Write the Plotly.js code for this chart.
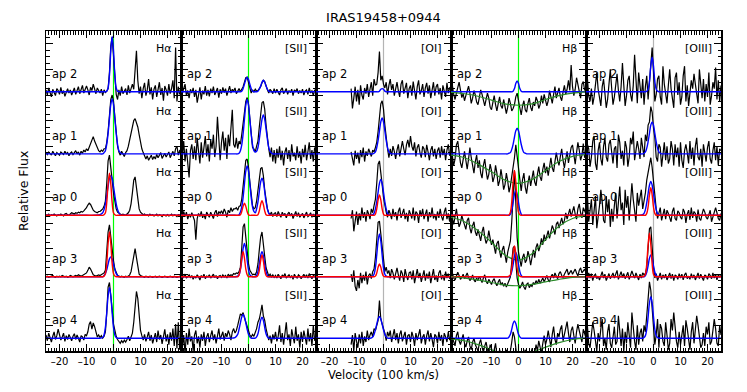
<!DOCTYPE html>
<html>
<head>
<meta charset="utf-8">
<script src="https://cdn.plot.ly/plotly-3.0.1.min.js"></script>
<style>
  html, body { margin: 0; padding: 0; background: #fff; }
  #plot { width: 747px; height: 392px; }
</style>
</head>
<body>
<div id="plot"></div>
<script>
// Velocity grid of the spectra (100 km/s)
const velocity = [
  -25,-24.5,-24,-23.5,-23,-22.5,-22,-21.5,-21,-20.5,
  -20,-19.5,-19,-18.5,-18,-17.5,-17,-16.5,-16,-15.5,
  -15,-14.5,-14,-13.5,-13,-12.5,-12,-11.5,-11,-10.5,
  -10,-9.5,-9,-8.5,-8,-7.5,-7,-6.5,-6,-5.5,
  -5,-4.5,-4,-3.5,-3,-2.5,-2,-1.5,-1,-0.5,
  0,0.5,1,1.5,2,2.5,3,3.5,4,4.5,
  5,5.5,6,6.5,7,7.5,8,8.5,9,9.5,
  10,10.5,11,11.5,12,12.5,13,13.5,14,14.5,
  15,15.5,16,16.5,17,17.5,18,18.5,19,19.5,
  20,20.5,21,21.5,22,22.5,23,23.5,24,24.5,
  25
];
// Velocity grid of the gaussian fits, and of the Hbeta absorption fits
const fitVelocity = [-25,-20,-15,-10,-7,-5,
  -4,-3.5,-3,-2.5,-2,-1.5,-1,-0.5,0,0.5,1,1.5,2,2.5,3,3.5,4,4.5,5,5.5,6,6.5,7,7.5,8,
  9,10,12,15,20,25];
const absVelocity = [-25,-20,-15,-10,-5,0,5,10,15,20,25];

const tickVals = [-20, -10, 0, 10, 20];
const tickText = ['\u201320', '\u201310', '0', '10', '20'];
const apLabels = ['ap 2', 'ap 1', 'ap 0', 'ap 3', 'ap 4'];
const lineLabels = ['H\u03b1', '[SII]', '[OI]', 'H\u03b2', '[OIII]'];

// ---- observed spectra (flux in 1/100 of a panel height, baseline = 0) ----
// H alpha
const haAp2 = [3,-5,6,-2,-8,4,0,-6,5,2, -4,7,-3,2,-7,1,5,-2,3,-5, 0,6,-4,2,8,-3,5,10,-2,4,
  9,3,-5,7,2,12,4,-3,6,1, -2,4,-6,3,-1,1,5,30,72,86, 55,15,-4,-12,3,-6,8,-3,2,5,
  -5,10,-2,6,12,4,30,64,18,-3, 8,-10,5,14,-6,3,20,-4,7,-12, 4,10,-8,2,15,-5,6,-14,9,3,
  -6,12,-3,5,18,-10,69,-15,8,-4, 6];
const haAp1 = [2,-1,3,0,-2,4,1,-3,2,0, -2,3,1,-1,4,0,2,-3,1,3, -1,2,5,0,3,-2,4,1,6,3,
  8,5,10,16,22,27,20,14,8,5, 3,6,4,8,8,18,35,60,85,92, 82,58,32,12,3,-2,4,0,-4,2,
  5,12,22,35,45,52,55,50,42,30, 18,8,2,-5,-8,-3,-10,-6,-2,-9, -4,-8,-1,-6,-3,2,-7,-4,1,-5,
  -2,3,-6,0,4,-3,8,12,-2,5, 3];
const haAp0 = [1,0,2,-1,1,0,2,1,-1,1, 0,2,1,-1,2,3,1,0,2,4, 3,2,4,3,5,4,6,5,7,9,
  12,16,19,17,12,8,6,5,4,6, 6,8,10,14,22,50,85,94,78,55, 35,20,10,5,3,2,1,2,1,0,
  2,4,8,18,35,55,60,45,25,10, 5,3,1,2,0,1,-1,2,0,1, -1,0,2,-1,1,0,-2,1,0,-1,
  1,-1,0,2,-1,1,0,-2,1,0, 0];
const haAp3 = [0,1,-1,0,1,2,0,-1,1,0, 1,0,2,1,0,1,-1,0,2,1, 0,1,2,1,3,2,1,2,3,4,
  6,10,15,12,6,3,2,1,2,3, 2,3,4,6,10,35,70,81,60,40, 25,12,5,2,1,0,1,0,-1,1,
  0,1,3,8,20,38,44,30,12,4, 2,1,0,-1,1,0,-1,1,0,-1, 0,1,-1,0,1,0,-1,0,1,0,
  -1,0,1,0,-1,1,0,-1,0,1, 0];
const haAp4 = [5,-4,8,2,-6,3,10,-2,4,14, 6,-3,2,8,-5,4,-2,6,1,-4, 3,7,-2,5,0,-6,4,2,-3,6,
  4,10,22,26,14,24,18,8,2,5, 1,4,0,3,10,40,80,87,70,45, 22,10,3,-2,-5,-8,-4,-7,-3,-6,
  -2,3,-4,2,8,25,55,73,62,35, 12,4,-3,6,-5,2,10,-4,5,-8, 3,8,-6,12,-2,5,-9,4,14,-5,
  6,-10,9,-4,15,-12,22,-16,25,-18, 10];
// [SII]
const siiAp2 = [8,-3,5,12,-6,2,-10,4,-2,6, -8,3,-17,-5,7,-12,2,-4,9,-6, 3,-7,5,-2,8,-5,1,6,-9,4,
  -3,7,-1,5,-6,3,9,-2,4,1, 6,-3,2,5,0,3,8,15,22,23, 14,4,-2,3,0,4,1,2,5,8,
  14,18,16,8,3,-2,4,1,-3,5, -2,4,0,-5,3,6,-3,1,5,-4, 2,-1,4,-6,3,0,5,-3,2,-2,
  4,-5,1,3,-4,6,-2,2,-6,3, 0];
const siiAp1 = [10,-5,20,-12,8,-20,-37,5,15,-8, 12,-10,25,4,-15,18,-6,10,28,-4, 15,-12,22,8,30,-5,12,58,20,-10,
  18,35,5,25,-8,30,12,40,69,15, 10,25,8,20,15,30,45,65,82,88, 78,55,30,10,8,3,12,20,42,66,
  80,82,70,45,20,8,-5,10,-12,6, -15,8,-6,12,-10,5,-18,3,10,-8, 6,-12,15,-4,2,-10,12,-6,4,-15,
  8,-5,14,-10,3,18,-8,6,-12,10, 4];
const siiAp0 = [3,-4,6,-2,5,-6,2,-3,4,-1, -8,-38,-5,3,-2,6,-4,2,-6,5, 2,-3,5,1,-5,4,8,-2,6,3,
  7,2,10,5,-3,8,4,12,6,10, 10,12,8,14,15,25,45,70,86,88, 75,52,30,15,10,12,22,40,60,73,
  75,62,40,22,10,4,1,5,-2,3, 4,-2,6,1,-3,5,0,3,-4,2, 5,-1,3,-5,2,6,-2,4,-3,1,
  3,-4,2,5,-2,0,4,-3,2,-1, 2];
const siiAp3 = [2,-3,1,4,-2,0,3,-1,2,-4, 1,-2,3,0,-5,2,-1,4,-3,1, 0,3,-2,1,4,-1,2,-3,1,2,
  -1,3,0,2,-2,4,1,3,2,5, 4,6,5,8,15,45,78,83,60,35, 20,10,5,3,4,3,8,20,42,62,
  70,55,32,14,5,1,4,0,3,-1, 2,-2,4,1,-3,3,0,5,-2,1, 3,-1,2,-4,4,0,-2,3,1,-3,
  2,4,-1,3,-2,5,0,-3,2,1, 0];
const siiAp4 = [10,-15,5,-25,8,-10,15,-5,3,-20, 5,12,-8,3,-15,6,-4,10,-12,2, 8,-6,4,12,-3,6,-8,3,15,-2,
  5,10,-4,8,2,12,6,-3,10,15, 8,12,20,30,38,36,40,32,25,18, 10,5,2,6,3,8,15,25,30,40,
  52,35,28,15,5,-3,4,-8,6,-2, 10,-5,3,20,-6,8,-10,5,25,-3, 6,-12,14,2,-8,18,-4,6,-15,10,
  -6,12,3,-10,15,-5,8,-12,20,-4, 5];
// [OI] (the spectra begin at -12)
const oiAp2 = [5,-26,-10,8, -15,3,-20,10,-5,-12,6,-3,12,-8, 4,15,-6,20,10,12,30,63,18,25,
  12,6,15,-4,10,20,3,12,-6,8, 15,2,-8,12,18,-3,6,14,-10,5, 10,-6,16,4,-12,8,18,-4,2,12,
  -8,6,14,-3,10,-10,5,15,-6,8, 12,-4,6,-12,10,3,-8,14,-2,6, 4];
const oiAp1 = [3,-10,-18,5, -8,2,-15,6,-5,10,-12,4,-3,8, 2,-4,6,3,10,18,35,60,78,83,
  70,45,22,8,-6,8,-3,12,4,-8, 6,15,-4,10,20,8,-2,14,22,10, 28,12,5,18,-4,10,15,2,-6,12,
  8,-5,14,3,-10,6,12,-4,8,-8, 5,10,-6,12,-2,8,-10,6,15,-3, 5];
const oiAp0 = [-5,8,-25,-12, 6,-15,3,-8,12,-4,5,-10,8,2, -6,10,4,15,25,50,80,85,70,48,
  28,15,5,-3,8,2,-6,10,-2,5, -8,6,12,-4,3,10,-6,4,-10,8, 2,-5,12,-8,6,3,-12,8,-2,10,
  -6,4,9,-10,5,-3,12,-5,2,-8, 6,-4,10,-2,-8,5,12,-6,3,-10, 4];
const oiAp3 = [4,-8,10,-15, -22,-5,-18,6,-10,3,-6,8,-12,2, 5,-3,8,12,30,62,85,87,65,40,
  20,8,15,5,10,-2,12,6,-4,8, 14,3,-6,10,5,-8,12,2,-5,6, 8,-4,10,-10,4,12,-2,6,-8,3,
  10,-6,5,-3,8,-10,4,12,-5,2, -8,6,10,-4,3,-6,8,-2,5,-3, 2];
const oiAp4 = [-10,5,-20,8, -5,-15,6,-8,10,-12,3,-6,12,-3, 5,10,2,15,12,20,28,59,30,22,
  15,8,-4,10,3,12,-6,5,14,-3, 8,-8,6,12,-5,3,10,-10,4,6, -6,10,2,-12,8,-3,5,14,-8,2,
  6,-10,4,12,-5,8,-2,-14,6,3, -8,10,-4,5,-12,8,2,-6,10,-3, 4];
// H beta
const hbAp2 = [6,10,-4,-12,-2,8,15,3,-9,-3, -14,-6,4,9,-2,-18,-10,2,-5,-16, -20,-8,3,-4,-15,-22,-12,-2,-10,-24,
  -28,-14,-6,-20,-30,-18,-8,-22,-26,-12, -22,-34,-24,-10,-18,-30,-26,-20,-8,-2, -14,-26,-36,-22,-14,-28,-32,-18,-10,-24,
  -30,-16,-22,-8,-14,-26,-20,-6,-18,-4, -12,-22,-14,2,-8,-18,-4,8,-10,-2, 6,-8,-14,0,10,-4,4,18,2,42,
  8,-6,4,22,10,-4,-10,12,16,2, 5];
const hbAp1 = [12,-4,-18,-8,14,20,2,-14,-22,-6, 4,-10,-24,-8,10,-6,-20,-30,-12,-2, -22,-10,-30,-38,-18,-8,-26,-40,-32,-16,
  -26,-44,-36,-18,-30,-50,-42,-24,-38,-56, -48,-30,-42,-60,-50,-36,-26,-6,14,-4, -24,-44,-58,-40,-30,-52,-62,-46,-34,-50,
  -38,-26,-44,-50,-32,-20,-36,-42,-24,-14, -30,-20,-34,-16,-6,-22,-28,-12,2,-10, -18,-4,8,-10,-22,-8,4,-14,-2,10,
  14,-4,-16,2,18,6,-10,-2,16,-6, 0];
const hbAp0 = [6,-4,-14,-2,10,-6,-18,-12,0,-8, -14,-22,-8,-4,-20,-28,-16,-10,-26,-32, -22,-30,-40,-26,-18,-34,-44,-38,-24,-36,
  -46,-38,-52,-60,-44,-40,-56,-66,-54,-48, -62,-74,-58,-48,-40,-10,40,70,20,-35, -58,-72,-80,-66,-60,-74,-70,-56,-64,-78,
  -62,-54,-66,-50,-44,-56,-48,-36,-46,-30, -40,-32,-24,-36,-28,-16,-22,-30,-14,-10, -20,-12,-4,-14,-8,4,-6,2,10,-2,
  6,14,2,-6,10,18,4,-4,12,8, 2];
const hbAp3 = [3,6,-2,-5,1,7,2,-4,-1,4, -3,2,6,-1,-6,-3,3,-5,-8,-2, -6,1,-4,-9,-2,3,-7,-11,-4,-8,
  -12,-6,-3,-10,-14,-8,-4,-13,-9,-15, -10,-16,-12,-6,0,20,45,48,25,-2, -12,-18,-14,-8,-16,-20,-12,-10,-17,-13,
  -15,-9,-12,-6,-11,-4,-10,-7,-2,-8, -3,2,-5,-8,0,4,-2,6,1,-3, 5,8,2,-1,4,9,12,3,6,10,
  4,8,12,6,1,10,14,6,9,12, 6];
const hbAp4 = [8,2,-6,-12,4,10,-4,-10,-2,6, -8,-14,-4,2,-12,-18,-6,0,-10,-16, -20,-8,-2,-14,-22,-12,-6,-18,-24,-10,
  -16,-28,-20,-8,-26,-32,-18,-24,-34,-22, -28,-18,-34,-24,-20,-6,10,2,-20,-32, -36,-24,-30,-40,-26,-18,-32,-38,-22,-28,
  -16,-30,-24,-10,-20,-4,-14,-22,-8,4, -10,-2,12,-6,-14,6,18,-2,-10,8, 2,14,20,-4,6,16,26,8,-6,12,
  18,4,-8,10,22,12,2,-6,14,8, 0];
// [OIII]
const oiiiAp2 = [10,22,-6,-15,5,-20,-8,12,30,4, -10,-22,8,20,-2,-25,-12,12,35,6, -20,-8,15,28,2,-15,8,45,10,-22,
  -6,18,25,-4,-15,10,58,12,-18,30, 6,-10,20,-20,8,25,-12,15,45,69, 30,-15,-4,20,25,-8,-20,40,12,-6,
  -18,10,35,5,-10,-25,22,30,-5,15, -20,-8,25,40,-15,10,-22,-4,18,5, 28,12,-5,-18,35,8,-10,20,-15,12,
  -8,30,-20,-6,15,5,38,-12,18,-15, 10];
const oiiiAp1 = [-10,15,8,-20,-5,20,28,-15,-25,5, 18,-8,-18,12,25,-5,-12,15,22,-3, -15,8,12,-22,30,18,-8,5,-18,20,
  10,-20,-5,25,15,35,-10,5,20,8, -8,25,10,-5,30,20,45,50,74,65, 40,25,-5,-12,15,10,-20,5,18,-10,
  12,-15,-8,20,8,-18,15,-5,10,-20, 18,-10,-22,5,15,2,-15,20,-8,10, -18,12,25,-5,-10,8,-20,15,-3,-12,
  10,20,-8,-15,5,18,-10,12,-18,8, 5];
const oiiiAp0 = [20,35,-10,5,25,-15,10,30,-20,-5, 15,40,22,-8,-12,30,5,25,-18,10, -10,15,35,-5,28,45,8,20,-15,40,
  12,30,-8,18,50,25,5,-10,35,15, 28,40,10,22,35,55,65,80,90,75, 50,25,10,-5,4,12,-8,2,10,-6,
  8,3,-4,-10,6,12,-5,-8,7,4, -3,-6,10,5,-12,2,8,-7,12,-4, 6,3,-10,9,-5,-8,2,10,5,-3,
  -6,2,8,-10,-3,6,12,4,-5,-8, 3];
const oiiiAp3 = [3,-4,6,-2,5,-6,2,4,-3,1, -5,3,8,-2,4,-6,1,5,-3,2, 6,-2,4,10,-4,3,8,-1,5,-3,
  2,7,-4,4,9,3,-2,6,1,-5, 4,-2,6,3,5,15,45,75,78,45, 15,-2,5,-6,2,6,-4,3,-2,4,
  -5,2,6,-3,4,-6,3,1,-4,5, -2,4,-5,3,6,-3,1,-4,5,-2, 3,-5,2,6,-3,4,-1,-6,3,1,
  -4,5,2,-3,6,-2,4,-5,3,0, 2];
const oiiiAp4 = [10,20,-8,-15,5,25,12,-10,-20,8, -5,15,30,-12,0,-18,10,22,-8,-15, 5,18,-10,-5,35,8,-12,15,-20,10,
  -8,25,5,-15,40,12,-5,-18,20,-10, 8,15,-5,20,10,35,70,88,75,50, 20,-10,5,30,-15,22,15,-5,-12,25,
  5,-18,-8,30,12,40,18,-5,-15,10, -10,5,20,-12,28,15,-5,-18,10,25, -8,12,35,20,5,-15,-10,8,-12,18,
  6,25,-10,-5,12,30,15,-8,-12,20, 5];

// ---- gaussian fits on fitVelocity: total (blue) and narrow component (red) ----
const haFitAp2 = [0,0,0,0,0,0, 0,0,0,1,6,26,64,86,64,26,6,1,0,0,0,0,0,0,0,0,0,0,0,0,0, 0,0,0,0,0,0];
const haFitAp1 = [0,0,0,0,0,0, 0,2,5,15,32,55,77,86,77,55,32,15,5,2,0,0,0,0,0,0,0,0,0,0,0, 0,0,0,0,0,0];
const haFitAp0 = [0,0,0,0,0,1, 4,9,18,31,45,58,62,58,45,31,18,9,4,1,0,0,0,0,0,0,0,0,0,0,0, 0,0,0,0,0,0];
const haRedAp0 = [0,0,0,0,0,0, 0,1,4,20,49,66,49,20,4,1,0,0,0,0,0,0,0,0,0,0,0,0,0,0,0, 0,0,0,0,0,0];
const haFitAp3 = [0,0,0,0,0,0, 0,2,5,11,20,28,31,28,20,11,5,2,0,0,0,0,0,0,0,0,0,0,0,0,0, 0,0,0,0,0,0];
const haRedAp3 = [0,0,0,0,0,0, 0,1,5,21,52,70,52,21,5,1,0,0,0,0,0,0,0,0,0,0,0,0,0,0,0, 0,0,0,0,0,0];
const haFitAp4 = [0,0,0,0,0,0, 1,5,17,40,66,79,66,40,17,5,1,0,0,0,0,0,0,0,0,0,0,0,0,0,0, 0,0,0,0,0,0];

const siiFitAp2 = [0,0,0,0,0,0, 0,0,0,1,5,12,19,23,19,12,5,1,0,0,0,1,4,9,15,18,15,9,4,1,0, 0,0,0,0,0,0];
const siiFitAp1 = [0,0,0,0,0,0, 0,1,5,14,31,54,76,85,76,54,31,14,5,3,4,10,23,39,54,61,54,39,23,10,4, 0,0,0,0,0,0];
const siiFitAp0 = [0,0,0,0,0,0, 0,1,5,13,28,49,69,77,69,49,28,13,6,4,10,21,37,52,58,52,37,21,10,3,1, 0,0,0,0,0,0];
const siiRedAp0 = [0,0,0,0,0,0, 0,0,1,6,14,19,14,6,1,0,0,0,0,0,0,1,7,17,23,17,7,1,0,0,0, 0,0,0,0,0,0];
const siiFitAp3 = [0,0,0,0,0,0, 1,3,11,26,44,52,44,26,11,3,1,0,0,0,2,8,20,33,39,33,20,8,2,0,0, 0,0,0,0,0,0];
const siiRedAp3 = [0,0,0,0,0,0, 0,3,12,29,39,29,12,3,0,0,0,0,0,0,0,2,10,25,34,25,10,2,0,0,0, 0,0,0,0,0,0];
const siiFitAp4 = [0,0,0,0,0,1, 6,14,24,33,37,33,24,14,6,2,0,0,0,0,2,7,17,28,33,28,17,7,2,0,0, 0,0,0,0,0,0];

const oiFitAp2 = [0,0,0,0,0,0, 0,0,0,0,0,1,4,5,4,1,0,0,0,0,0,0,0,0,0,0,0,0,0,0,0, 0,0,0,0,0,0];
const oiFitAp1 = [0,0,0,0,0,0, 0,1,3,10,21,36,50,56,50,36,21,10,3,1,0,0,0,0,0,0,0,0,0,0,0, 0,0,0,0,0,0];
const oiFitAp0 = [0,0,0,0,0,0, 1,3,10,21,36,50,56,50,36,21,10,3,1,0,0,0,0,0,0,0,0,0,0,0,0, 0,0,0,0,0,0];
const oiRedAp0 = [0,0,0,0,0,0, 0,0,2,10,24,32,24,10,2,0,0,0,0,0,0,0,0,0,0,0,0,0,0,0,0, 0,0,0,0,0,0];
const oiFitAp3 = [0,0,0,0,0,0, 1,4,14,34,56,67,56,34,14,4,1,0,0,0,0,0,0,0,0,0,0,0,0,0,0, 0,0,0,0,0,0];
const oiRedAp3 = [0,0,0,0,0,0, 0,0,1,6,15,20,15,6,1,0,0,0,0,0,0,0,0,0,0,0,0,0,0,0,0, 0,0,0,0,0,0];
const oiFitAp4 = [0,0,0,0,0,0, 2,6,13,22,30,34,30,22,13,6,2,0,0,0,0,0,0,0,0,0,0,0,0,0,0, 0,0,0,0,0,0];

const hbFitAp2 = [0,0,0,0,0,0, 0,0,0,0,1,5,13,17,13,5,1,0,0,0,0,0,0,0,0,0,0,0,0,0,0, 0,0,0,0,0,0];
const hbFitAp1 = [0,0,0,0,0,0, 0,1,2,7,15,26,36,40,36,26,15,7,2,1,0,0,0,0,0,0,0,0,0,0,0, 0,0,0,0,0,0];
const hbFitAp0 = [0,0,0,0,0,0, 0,0,2,8,20,33,39,33,20,8,2,0,0,0,0,0,0,0,0,0,0,0,0,0,0, 0,0,0,0,0,0];
const hbRedAp0 = [0,0,0,0,0,0, 0,1,5,21,52,70,52,21,5,1,0,0,0,0,0,0,0,0,0,0,0,0,0,0,0, 0,0,0,0,0,0];
const hbFitAp3 = [0,0,0,0,0,0, 0,0,2,8,19,32,38,32,19,8,2,0,0,0,0,0,0,0,0,0,0,0,0,0,0, 0,0,0,0,0,0];
const hbRedAp3 = [0,0,0,0,0,0, 0,1,3,14,36,48,36,14,3,1,0,0,0,0,0,0,0,0,0,0,0,0,0,0,0, 0,0,0,0,0,0];
const hbFitAp4 = [0,0,0,0,0,0, 0,2,6,14,23,27,23,14,6,2,0,0,0,0,0,0,0,0,0,0,0,0,0,0,0, 0,0,0,0,0,0];

const oiiiFitAp2 = [0,0,0,0,0,0, 0,0,0,1,4,16,40,54,40,16,4,1,0,0,0,0,0,0,0,0,0,0,0,0,0, 0,0,0,0,0,0];
const oiiiFitAp1 = [0,0,0,0,0,0, 0,1,3,9,19,32,45,50,45,32,19,9,3,1,0,0,0,0,0,0,0,0,0,0,0, 0,0,0,0,0,0];
const oiiiFitAp0 = [0,0,0,0,0,0, 1,3,9,20,34,47,53,47,34,20,9,3,1,0,0,0,0,0,0,0,0,0,0,0,0, 0,0,0,0,0,0];
const oiiiRedAp0 = [0,0,0,0,0,0, 0,0,0,3,13,32,43,32,13,3,0,0,0,0,0,0,0,0,0,0,0,0,0,0,0, 0,0,0,0,0,0];
const oiiiFitAp3 = [0,0,0,0,0,0, 0,0,2,7,17,29,34,29,17,7,2,0,0,0,0,0,0,0,0,0,0,0,0,0,0, 0,0,0,0,0,0];
const oiiiRedAp3 = [0,0,0,0,0,0, 0,1,4,20,50,68,50,20,4,1,0,0,0,0,0,0,0,0,0,0,0,0,0,0,0, 0,0,0,0,0,0];
const oiiiFitAp4 = [0,0,0,0,0,0, 0,1,4,14,33,55,65,55,33,14,4,1,0,0,0,0,0,0,0,0,0,0,0,0,0, 0,0,0,0,0,0];

// ---- Hbeta stellar absorption fits (green) on absVelocity ----
const hbAbsAp2 = [-1,-3,-7,-13,-19,-21,-19,-12,-6,-2,0];
const hbAbsAp1 = [-2,-6,-16,-28,-41,-46,-40,-26,-12,-4,-1];
const hbAbsAp0 = [-3,-10,-24,-42,-62,-70,-60,-38,-17,-5,-1];
const hbAbsAp3 = [0,-2,-5,-9,-13,-14,-12,-8,-4,-1,0];
const hbAbsAp4 = [-1,-4,-10,-18,-26,-28,-22,-14,-7,-2,0];

// panels: one column per line, rows are ap2, ap1, ap0, ap3, ap4 from the top
const columns = [
  { spectra: [haAp2, haAp1, haAp0, haAp3, haAp4],
    fits: [haFitAp2, haFitAp1, haFitAp0, haFitAp3, haFitAp4],
    reds: [null, null, haRedAp0, haRedAp3, null], zeroColor: '#00ff00' },
  { spectra: [siiAp2, siiAp1, siiAp0, siiAp3, siiAp4],
    fits: [siiFitAp2, siiFitAp1, siiFitAp0, siiFitAp3, siiFitAp4],
    reds: [null, null, siiRedAp0, siiRedAp3, null], zeroColor: '#00ff00' },
  { spectra: [oiAp2, oiAp1, oiAp0, oiAp3, oiAp4],
    fits: [oiFitAp2, oiFitAp1, oiFitAp0, oiFitAp3, oiFitAp4],
    reds: [null, null, oiRedAp0, oiRedAp3, null], zeroColor: '#b4b4b4' },
  { spectra: [hbAp2, hbAp1, hbAp0, hbAp3, hbAp4],
    fits: [hbFitAp2, hbFitAp1, hbFitAp0, hbFitAp3, hbFitAp4],
    reds: [null, null, hbRedAp0, hbRedAp3, null],
    absorption: [hbAbsAp2, hbAbsAp1, hbAbsAp0, hbAbsAp3, hbAbsAp4], zeroColor: '#00ff00' },
  { spectra: [oiiiAp2, oiiiAp1, oiiiAp0, oiiiAp3, oiiiAp4],
    fits: [oiiiFitAp2, oiiiFitAp1, oiiiFitAp0, oiiiFitAp3, oiiiFitAp4],
    reds: [null, null, oiiiRedAp0, oiiiRedAp3, null], zeroColor: '#b4b4b4' }
];

// baseline of each row on the 0..500 column axis
const rowBase = [405, 308, 212, 116, 20];
const shift = (arr, base) => arr.map(v => v + base);

const traces = [];
const annotations = [];
const shapes = [];
const layout = {
  width: 747,
  height: 392,
  margin: { l: 46, r: 26, t: 31, b: 41 },
  paper_bgcolor: '#fff',
  plot_bgcolor: '#fff',
  showlegend: false,
  font: { family: 'DejaVu Sans, sans-serif', size: 11, color: '#000' },
  title: {
    text: 'IRAS19458+0944',
    x: 0.5, xref: 'paper', xanchor: 'center',
    y: 1 - 17 / 392, yref: 'container', yanchor: 'middle',
    font: { size: 13, color: '#000' }
  }
};

columns.forEach((col, c) => {
  const xa = 'x' + (c + 1);
  const ya = 'y' + (c + 1);

  col.spectra.forEach((spec, r) => {
    const base = rowBase[r];
    // spectra that begin late ([OI]) use the tail of the grid
    const xs = velocity.slice(velocity.length - spec.length);
    traces.push({ x: xs, y: shift(spec, base), xaxis: xa, yaxis: ya, type: 'scatter',
      mode: 'lines', line: { color: '#000', width: 1.2 }, hoverinfo: 'skip' });
    traces.push({ x: fitVelocity, y: shift(col.fits[r], base), xaxis: xa, yaxis: ya,
      type: 'scatter', mode: 'lines', line: { color: '#0000ff', width: 1.4, shape: 'spline' },
      hoverinfo: 'skip' });
    if (col.reds[r]) {
      traces.push({ x: fitVelocity, y: shift(col.reds[r], base), xaxis: xa, yaxis: ya,
        type: 'scatter', mode: 'lines', line: { color: '#ff0000', width: 1.4, shape: 'spline' },
        hoverinfo: 'skip' });
    }
    if (col.absorption) {
      traces.push({ x: absVelocity, y: shift(col.absorption[r], base), xaxis: xa, yaxis: ya,
        type: 'scatter', mode: 'lines', line: { color: '#2a8a2a', width: 1.2, shape: 'spline' },
        hoverinfo: 'skip' });
    }

    annotations.push({ text: apLabels[r], xref: xa + ' domain', yref: ya, x: 0.03, y: base + 28,
      xanchor: 'left', yanchor: 'middle', showarrow: false, font: { size: 11.5 } });
    annotations.push({ text: lineLabels[c], xref: xa + ' domain', yref: ya, x: 0.95, y: base + 67,
      xanchor: 'right', yanchor: 'middle', showarrow: false, font: { size: 11 } });
  });

  // rest velocity marker
  shapes.push({ type: 'line', xref: xa, yref: 'paper', x0: 0, x1: 0, y0: 0, y1: 1,
    layer: 'below', line: { color: col.zeroColor, width: 1.2 } });

  layout['xaxis' + (c + 1)] = {
    domain: [c / 5, (c + 1) / 5], anchor: ya, range: [-25, 25],
    showline: true, linecolor: '#000', linewidth: 1.5, mirror: 'ticks',
    ticks: 'inside', ticklen: 7, tickwidth: 1, tickcolor: '#000',
    tickmode: 'array', tickvals: tickVals, ticktext: tickText,
    tickfont: { size: 10, color: '#000' },
    minor: { tickmode: 'linear', tick0: 0, dtick: 1, ticks: 'inside', ticklen: 3.5, tickcolor: '#000', showgrid: false },
    showgrid: false, zeroline: false, fixedrange: true
  };
  layout['yaxis' + (c + 1)] = {
    domain: [0, 1], anchor: xa, range: [0, 500],
    showline: true, linecolor: '#000', linewidth: 1.5, mirror: 'ticks',
    ticks: 'inside', ticklen: 7, tickwidth: 1, tickcolor: '#000',
    tickmode: 'linear', tick0: 0, dtick: 40, showticklabels: false,
    minor: { tickmode: 'linear', tick0: 0, dtick: 10, ticks: 'inside', ticklen: 3.5, tickcolor: '#000', showgrid: false },
    showgrid: false, zeroline: false, fixedrange: true
  };
});

// axis titles
annotations.push({ text: 'Velocity (100 km/s)', xref: 'paper', yref: 'paper', x: 0.5, y: -0.075,
  xanchor: 'center', yanchor: 'middle', showarrow: false, font: { size: 11.5 } });
annotations.push({ text: 'Relative Flux', xref: 'paper', yref: 'paper', x: -0.034, y: 0.5,
  xanchor: 'center', yanchor: 'middle', textangle: -90, showarrow: false, font: { size: 12.5 } });

layout.annotations = annotations;
layout.shapes = shapes;

Plotly.newPlot('plot', traces, layout, { staticPlot: true, displayModeBar: false });
</script>
</body>
</html>
